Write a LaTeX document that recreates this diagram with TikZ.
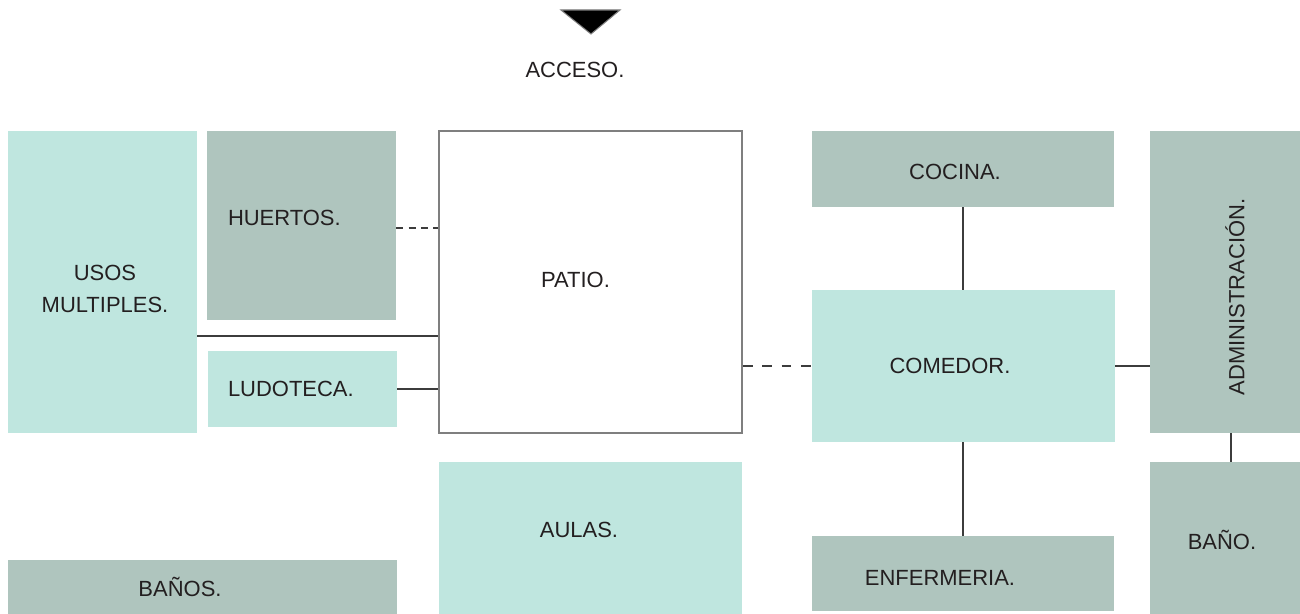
\documentclass[tikz,border=0pt]{standalone}
\usepackage{fontspec}
\setmainfont{Liberation Sans}
\usetikzlibrary{positioning}
\definecolor{agua}{HTML}{BFE6DF}
\definecolor{salvia}{HTML}{AFC5BE}
\definecolor{linea}{HTML}{3C3C3C}
\definecolor{borde}{HTML}{7F7F7F}
\definecolor{texto}{HTML}{231F20}
\tikzset{
  sala/.style={inner sep=0pt, text=texto, font=\fontsize{12.5}{15}\selectfont, align=center},
  clara/.style={sala, fill=agua},
  oscura/.style={sala, fill=salvia},
  enlace/.style={draw=linea, line width=1.3pt},
  puntos/.style={enlace, dash pattern=on 4pt off 3pt},
}
\begin{document}
\begin{tikzpicture}
  \useasboundingbox (0,0) rectangle (26,-12.28);

  % acceso
  \fill[black, draw=borde, line width=0.6pt] (11.22,-0.2) -- (12.4,-0.2) -- (11.82,-0.68) -- cycle;
  \node[sala] (acceso) at (11.5,-1.4) {ACCESO.};

  % lado izquierdo
  \node[clara, minimum width=3.78cm, minimum height=6.04cm,
        label={[sala, font=\fontsize{12.5}{18}\selectfont, xshift=0.05cm, yshift=-0.14cm]center:USOS\\MULTIPLES.}] (usos) at (2.05,-5.64) {};
  \node[oscura, minimum width=3.78cm, minimum height=3.78cm,
        label={[sala, anchor=west, xshift=0.42cm, yshift=0.15cm]west:HUERTOS.}] (huertos) at (6.03,-4.51) {};
  \node[clara, minimum width=3.78cm, minimum height=1.52cm,
        label={[sala, anchor=west, xshift=0.4cm]west:LUDOTECA.}] (ludoteca) at (6.05,-7.78) {};
  \node[oscura, minimum width=7.78cm, minimum height=1.08cm,
        label={[sala, xshift=-0.45cm]center:BAÑOS.}] (banos) at (4.05,-11.74) {};

  % centro
  \node[sala, draw=borde, line width=1pt, minimum width=6.06cm, minimum height=6.04cm,
        label={[sala, xshift=-0.3cm, yshift=0.04cm]center:PATIO.}] (patio) at (11.81,-5.64) {};
  \node[clara, minimum width=6.06cm, minimum height=3.04cm,
        label={[sala, xshift=-0.23cm, yshift=0.16cm]center:AULAS.}] (aulas) at (11.81,-10.76) {};

  % lado derecho
  \node[oscura, minimum width=6.04cm, minimum height=1.52cm,
        label={[sala, xshift=-0.16cm, yshift=-0.06cm]center:COCINA.}] (cocina) at (19.26,-3.38) {};
  \node[clara, minimum width=6.06cm, minimum height=3.04cm,
        label={[sala, xshift=-0.27cm]center:COMEDOR.}] (comedor) at (19.27,-7.32) {};
  \node[oscura, minimum width=6.04cm, minimum height=1.5cm,
        label={[sala, xshift=-0.46cm, yshift=-0.09cm]center:ENFERMERIA.}] (enfermeria) at (19.26,-11.47) {};
  \node[oscura, minimum width=3cm, minimum height=6.04cm,
        label={[sala, rotate=90, xshift=-0.3cm, yshift=-0.2cm]center:ADMINISTRACIÓN.}] (admin) at (24.5,-5.64) {};
  \node[oscura, minimum width=3cm, minimum height=3.04cm,
        label={[sala, xshift=-0.06cm, yshift=-0.04cm]center:BAÑO.}] (bano) at (24.5,-10.76) {};

  % conexiones
  \draw[puntos] ([yshift=-0.05cm]huertos.east) -- ([yshift=-0.05cm]huertos.east -| patio.west);
  \draw[enlace] ([yshift=-1.08cm]usos.east) -- ([yshift=-1.08cm]usos.east -| patio.west);
  \draw[enlace] (ludoteca.east) -- (ludoteca.east -| patio.west);
  \draw[enlace, dash pattern=on 5.5pt off 5.5pt] (comedor.west -| patio.east) -- (comedor.west);
  \draw[enlace] (cocina.south) -- (cocina.south |- comedor.north);
  \draw[enlace] (cocina.south |- comedor.south) -- (cocina.south |- enfermeria.north);
  \draw[enlace] (comedor.east) -- (comedor.east -| admin.west);
  \draw[enlace] ([xshift=0.12cm]admin.south) -- ([xshift=0.12cm]bano.north);
\end{tikzpicture}
\end{document}
